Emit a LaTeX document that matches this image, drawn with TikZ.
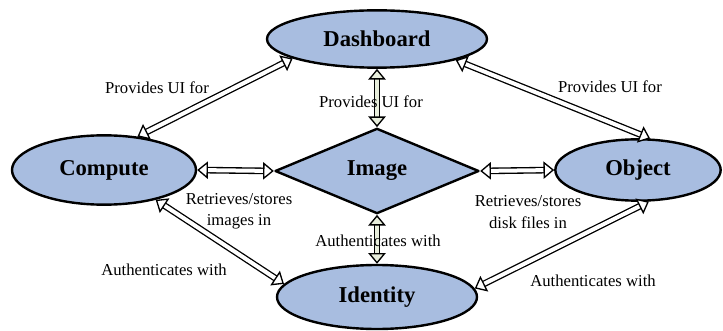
\documentclass[tikz,border=0pt]{standalone}
\usepackage{fontspec}
\setmainfont{Liberation Serif}
\usetikzlibrary{shapes.geometric,arrows.meta}
\definecolor{nodeblue}{RGB}{168,189,224}
\definecolor{paleshaft}{RGB}{232,238,220}

\begin{document}
\begin{tikzpicture}[x=0.75pt,y=-0.75pt,line cap=round,line join=round]
    % styles
    \tikzstyle{service}=[ellipse,draw=black,line width=1.8pt,fill=nodeblue,inner sep=0pt,font=\fontsize{17}{20}\selectfont\bfseries]
    \tikzstyle{hub}=[diamond,aspect=2.4,draw=black,line width=1.8pt,fill=nodeblue,inner sep=0pt,font=\fontsize{17}{20}\selectfont\bfseries]
    \tikzstyle{link}=[double=white,double distance=3pt,line width=1pt,>={Triangle[fill=white,length=8pt,width=13pt]},<->]
    \tikzstyle{vlink}=[link,double=paleshaft,>={Triangle[fill=paleshaft,length=8pt,width=13pt]}]
    \tikzstyle{note}=[font=\fontsize{12.5}{16}\selectfont,align=center,inner sep=0pt]

    \useasboundingbox (0,0) rectangle (723,331);

    % ----------------------------------------------------
    % services
    % ----------------------------------------------------
    \node[service,minimum width=165pt,minimum height=43pt] (dash) at (377,39) {Dashboard};
    \node[service,minimum width=138pt,minimum height=52pt] (comp) at (104,170) {Compute};
    \node[hub,minimum width=153pt,minimum height=64pt] (img) at (377,171) {Image};
    \node[service,minimum width=124pt,minimum height=46pt] (obj) at (638,170) {Object};
    \node[service,minimum width=150pt,minimum height=48pt] (ident) at (377,297) {Identity};

    % ----------------------------------------------------
    % connectors
    % ----------------------------------------------------
    \draw[link] (dash.193) -- (comp.45);
    \draw[link] (dash.-15) -- (obj.69);
    \draw[vlink] (dash.south) -- (img.north);
    \draw[link] (comp.east) -- (img.west);
    \draw[link] (img.east) -- (obj.west);
    \draw[link] (comp.-30) -- (ident.172);
    \draw[vlink] (img.south) -- (ident.north);
    \draw[link] (obj.-71) -- (ident.5);

    % ----------------------------------------------------
    % labels
    % ----------------------------------------------------
    \node[note] (uiComp) at (157,88) {Provides UI for};
    \node[note] (uiImg) at (371,102) {Provides UI for};
    \node[note] (uiObj) at (610,87) {Provides UI for};
    \node[note] (rsImg) at (239,211) {Retrieves/stores\\images in};
    \node[note] (rsObj) at (528,212) {Retrieves/stores\\disk files in};
    \node[note] (authImg) at (378,241) {Authenticates with};
    \node[note] (authComp) at (164,270) {Authenticates with};
    \node[note] (authObj) at (593,281) {Authenticates with};
\end{tikzpicture}
\end{document}
